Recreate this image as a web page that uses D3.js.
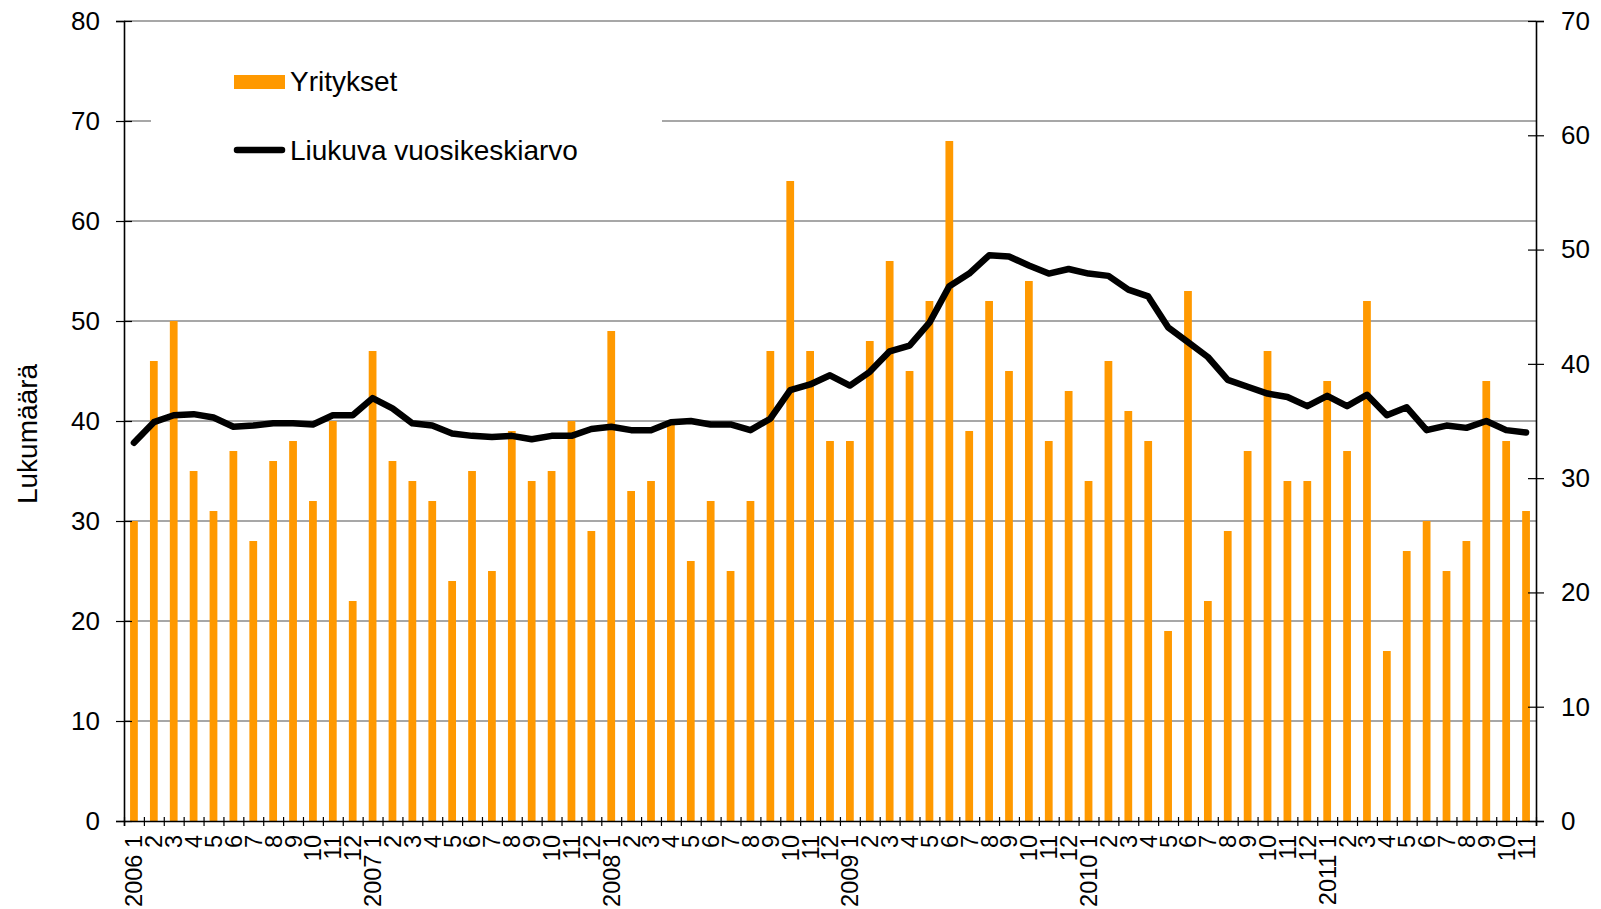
<!DOCTYPE html>
<html>
<head>
<meta charset="utf-8">
<script src="https://cdn.jsdelivr.net/npm/d3@7"></script>
<style>
  body { margin: 0; background: #fff; }
  svg { display: block; font-family: "Liberation Sans", Arial, sans-serif; }
</style>
</head>
<body>
<div id="chart"></div>
<script>
// Data: monthly counts 2006/1 .. 2011/11
const years = ["2006", "2007", "2008", "2009", "2010", "2011"];
const months = ["1","2","3","4","5","6","7","8","9","10","11","12"];

const yritykset = [
  30, 46, 50, 35, 31, 37, 28, 36, 38, 32, 40, 22,   // 2006
  47, 36, 34, 32, 24, 35, 25, 39, 34, 35, 40, 29,   // 2007
  49, 33, 34, 40, 26, 32, 25, 32, 47, 64, 47, 38,   // 2008
  38, 48, 56, 45, 52, 68, 39, 52, 45, 54, 38, 43,   // 2009
  34, 46, 41, 38, 19, 53, 22, 29, 37, 47, 34, 34,   // 2010
  44, 37, 52, 17, 27, 30, 25, 28, 44, 38, 31        // 2011
];

// moving yearly average, right axis
const keskiarvo = [
  33.1, 34.9, 35.5, 35.6, 35.3, 34.5, 34.6, 34.8, 34.8, 34.7, 35.5, 35.5,
  37.0, 36.1, 34.8, 34.6, 33.9, 33.7, 33.6, 33.7, 33.4, 33.7, 33.7, 34.3,
  34.5, 34.2, 34.2, 34.9, 35.0, 34.7, 34.7, 34.2, 35.2, 37.7, 38.2, 39.0,
  38.1, 39.3, 41.1, 41.6, 43.6, 46.8, 47.9, 49.5, 49.4, 48.6, 47.9, 48.3,
  47.9, 47.7, 46.5, 45.9, 43.2, 41.9, 40.6, 38.6, 38.0, 37.4, 37.1, 36.3,
  37.2, 36.3, 37.3, 35.5, 36.2, 34.2, 34.6, 34.4, 35.0, 34.2, 34.0
];

const leftTicks = [0, 10, 20, 30, 40, 50, 60, 70, 80];
const rightTicks = [0, 10, 20, 30, 40, 50, 60, 70];
const legendLabels = ["Yritykset", "Liukuva vuosikeskiarvo"];
const yTitle = "Lukumäärä";

// category labels: "2006 1", "2", ... , "2007 1", ...
const labels = yritykset.map((d, i) => {
  const m = months[i % 12];
  return m === "1" ? years[Math.floor(i / 12)] + " " + m : m;
});

const W = 1601, H = 909;
const plotL = 124, plotR = 1536, plotT = 21, plotB = 821;

const svg = d3.select("#chart").append("svg")
  .attr("width", W).attr("height", H);

const idx = d3.range(yritykset.length);

const x = d3.scaleBand()
  .domain(idx)
  .range([plotL, plotR])
  .paddingInner(0.61)
  .paddingOuter(0.305);

// boundaries between categories for the tick marks
const xEdge = d3.scaleLinear().domain([0, yritykset.length]).range([plotL, plotR]);

const yL = d3.scaleLinear().domain([0, 80]).range([plotB, plotT]);
const yR = d3.scaleLinear().domain([0, 70]).range([plotB, plotT]);

// gridlines
svg.append("g")
  .selectAll("line")
  .data(leftTicks.slice(1))
  .enter().append("line")
  .attr("x1", plotL).attr("x2", plotR)
  .attr("y1", d => yL(d)).attr("y2", d => yL(d))
  .attr("stroke", "#8a8a8a")
  .attr("stroke-width", 1.4);

// white legend box hides part of the grid
svg.append("rect")
  .attr("x", 151).attr("y", 40)
  .attr("width", 511).attr("height", 150)
  .attr("fill", "#fff");

// bars
svg.append("g")
  .selectAll("rect")
  .data(yritykset)
  .enter().append("rect")
  .attr("x", (d, i) => x(i))
  .attr("width", x.bandwidth())
  .attr("y", d => yL(d))
  .attr("height", d => yL(0) - yL(d))
  .attr("fill", "#ff9900");

// moving average line
const line = d3.line()
  .x((d, i) => x(i) + x.bandwidth() / 2)
  .y(d => yR(d));

svg.append("path")
  .datum(keskiarvo)
  .attr("d", line)
  .attr("fill", "none")
  .attr("stroke", "#000")
  .attr("stroke-width", 6.5)
  .attr("stroke-linejoin", "round")
  .attr("stroke-linecap", "round");

// left axis
const gL = svg.append("g")
  .attr("transform", "translate(" + plotL + ",0)")
  .call(d3.axisLeft(yL).tickValues(leftTicks).tickSize(8).tickPadding(16));
gL.selectAll(".tick line").attr("x1", -8).attr("x2", 8);

// right axis
const gR = svg.append("g")
  .attr("transform", "translate(" + plotR + ",0)")
  .call(d3.axisRight(yR).tickValues(rightTicks).tickSize(8).tickPadding(17));
gR.selectAll(".tick line").attr("x1", -8).attr("x2", 8);

[gL, gR].forEach(g => {
  g.select(".domain").attr("stroke", "#000").attr("stroke-width", 1.6);
  g.selectAll(".tick line").attr("stroke", "#000").attr("stroke-width", 1.2);
  g.selectAll(".tick text")
    .attr("font-size", 26)
    .attr("fill", "#000")
    .style("font-family", "'Liberation Sans', Arial, sans-serif");
});

// bottom axis: ticks at category edges
const gB = svg.append("g")
  .attr("transform", "translate(0," + plotB + ")")
  .call(d3.axisBottom(xEdge).tickValues(d3.range(yritykset.length + 1)).tickFormat("").tickSize(5));
gB.selectAll(".tick line").attr("y1", -4).attr("y2", 5).attr("stroke", "#000").attr("stroke-width", 1.2);
gB.select(".domain").attr("stroke", "#000").attr("stroke-width", 1.6);

// category labels, rotated
svg.append("g")
  .selectAll("text")
  .data(labels)
  .enter().append("text")
  .attr("transform", (d, i) => "translate(" + (x(i) + x.bandwidth() / 2) + "," + (plotB + 14) + ") rotate(-90)")
  .attr("dy", "0.36em")
  .attr("text-anchor", "end")
  .attr("font-size", 23.5)
  .attr("fill", "#000")
  .text(d => d);

// y title
svg.append("text")
  .attr("transform", "translate(37,434) rotate(-90)")
  .attr("text-anchor", "middle")
  .attr("font-size", 28)
  .attr("fill", "#000")
  .text(yTitle);

// legend
const lg = svg.append("g");
lg.append("rect")
  .attr("x", 234).attr("y", 75)
  .attr("width", 51).attr("height", 14)
  .attr("fill", "#ff9900");
lg.append("line")
  .attr("x1", 237).attr("x2", 282)
  .attr("y1", 150).attr("y2", 150)
  .attr("stroke", "#000")
  .attr("stroke-width", 6.5)
  .attr("stroke-linecap", "round");
lg.selectAll("text")
  .data(legendLabels)
  .enter().append("text")
  .attr("x", 290)
  .attr("y", (d, i) => i === 0 ? 91 : 160)
  .attr("font-size", 28)
  .attr("fill", "#000")
  .text(d => d);
</script>
</body>
</html>
